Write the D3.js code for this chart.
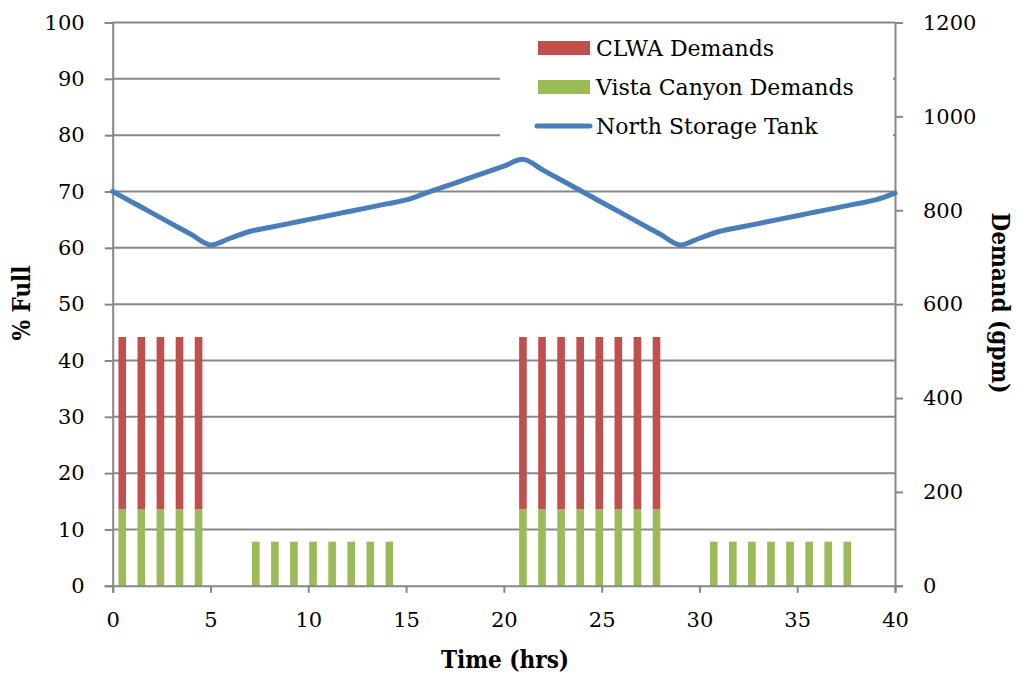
<!DOCTYPE html>
<html>
<head>
<meta charset="utf-8">
<script src="https://cdn.jsdelivr.net/npm/d3@7"></script>
<style>
  html, body { margin: 0; padding: 0; background: #fff; }
  svg { display: block; }
  .tick-label { font-family: "DejaVu Serif", serif; font-size: 21px; fill: #000; }
  .axis-title { font-family: "DejaVu Serif", serif; font-stretch: condensed; font-size: 24px; font-weight: bold; fill: #000; }
  .legend-text { font-family: "DejaVu Serif", serif; font-size: 22px; fill: #000; }
</style>
</head>
<body>
<script>
// Hour index of each demand bar (one category per hour)
const hours = [0,1,2,3,4,5,6,7,8,9,10,11,12,13,14,15,16,17,18,19,20,
               21,22,23,24,25,26,27,28,29,30,31,32,33,34,35,36,37,38,39,40];

// Vista Canyon demand (gpm)
const vistaDemand = [163,163,163,163,163, 0,0, 94,94,94,94,94,94,94,94, 0,0,0,0,0,0,
                     163,163,163,163,163,163,163,163, 0,0, 94,94,94,94,94,94,94,94, 0,0];

// CLWA demand (gpm), stacked above Vista Canyon
const clwaDemand = [367,367,367,367,367, 0,0, 0,0,0,0,0,0,0,0, 0,0,0,0,0,0,
                    367,367,367,367,367,367,367,367, 0,0, 0,0,0,0,0,0,0,0, 0,0];

// North Storage Tank level (% full) at each hour
const tankLevel = [70.0,68.1,66.2,64.3,62.4,60.5,61.7,62.9,63.6,64.3,65.0,65.7,66.4,67.1,67.8,
                   68.5,69.7,70.9,72.1,73.3,74.5,75.7,73.8,71.9,70.0,68.1,66.2,64.3,62.4,60.5,
                   61.7,62.9,63.6,64.3,65.0,65.7,66.4,67.1,67.8,68.5,69.7];

const xTicks = [0,5,10,15,20,25,30,35,40];
const leftTicks = [0,10,20,30,40,50,60,70,80,90,100];
const rightTicks = [0,200,400,600,800,1000,1200];

const seriesNames = ["CLWA Demands", "Vista Canyon Demands", "North Storage Tank"];
const colors = { clwa: "#C0504D", vista: "#9BBB59", tank: "#4A7EBB" };

const W = 1017, H = 675;
const plot = { left: 112.7, right: 895, top: 22.5, bottom: 585.8 };

const svg = d3.select("body").append("svg").attr("width", W).attr("height", H);

const x = d3.scaleLinear().domain([0, 40]).range([plot.left, plot.right]);
const xBand = d3.scaleBand().domain(hours).range([plot.left, plot.right])
  .paddingInner(0.6).paddingOuter(0.3);
const yLeft = d3.scaleLinear().domain([0, 100]).range([plot.bottom, plot.top]);
const yRight = d3.scaleLinear().domain([0, 1200]).range([plot.bottom, plot.top]);

const gridColor = "#878787";

// Horizontal gridlines
svg.append("g").selectAll("line").data(leftTicks.filter(d => d > 0)).join("line")
  .attr("x1", plot.left).attr("x2", plot.right)
  .attr("y1", d => yLeft(d)).attr("y2", d => yLeft(d))
  .attr("stroke", gridColor).attr("stroke-width", 2);

// Stacked demand bars
const stackData = hours.map((h, i) => ({ hour: h, vista: vistaDemand[i], clwa: clwaDemand[i] }));
const stacked = d3.stack().keys(["vista", "clwa"])(stackData);
svg.append("g").selectAll("g").data(stacked).join("g")
  .attr("fill", s => colors[s.key])
  .selectAll("rect").data(s => s.filter(d => d[1] - d[0] > 0)).join("rect")
  .attr("x", d => xBand(d.data.hour))
  .attr("width", xBand.bandwidth())
  .attr("y", d => yRight(d[1]))
  .attr("height", d => yRight(d[0]) - yRight(d[1]));

// Axes
const axisStyle = g => {
  g.attr("font-family", null).attr("font-size", null);
  g.select(".domain").attr("stroke", gridColor).attr("stroke-width", 2);
  g.selectAll(".tick line").attr("stroke", gridColor).attr("stroke-width", 2);
  g.selectAll(".tick text").attr("class", "tick-label").attr("fill", "#000");
};

svg.append("g").attr("transform", `translate(0,${plot.bottom})`)
  .call(d3.axisBottom(x).tickValues(xTicks).tickFormat(d3.format("d"))
    .tickSizeOuter(0).tickSize(7).tickPadding(19))
  .call(axisStyle);

svg.append("g").attr("transform", `translate(${plot.left},0)`)
  .call(d3.axisLeft(yLeft).tickValues(leftTicks).tickFormat(d3.format("d"))
    .tickSizeOuter(0).tickSize(8).tickPadding(20))
  .call(axisStyle);

svg.append("g").attr("transform", `translate(${plot.right},0)`)
  .call(d3.axisRight(yRight).tickValues(rightTicks).tickFormat(d3.format("d"))
    .tickSizeOuter(0).tickSize(8).tickPadding(20))
  .call(axisStyle);

// Tank level line
const line = d3.line()
  .x((d, i) => x(hours[i]))
  .y(d => yLeft(d))
  .curve(d3.curveCatmullRom.alpha(0.5));
svg.append("path").datum(tankLevel)
  .attr("d", line)
  .attr("fill", "none")
  .attr("stroke", colors.tank)
  .attr("stroke-width", 5)
  .attr("stroke-linejoin", "round")
  .attr("stroke-linecap", "round");

// Axis titles
svg.append("text").attr("class", "axis-title")
  .attr("text-anchor", "middle")
  .attr("x", 505).attr("y", 668)
  .text("Time (hrs)");

svg.append("text").attr("class", "axis-title")
  .attr("text-anchor", "middle")
  .attr("transform", "translate(30,303) rotate(-90)")
  .text("% Full");

svg.append("text").attr("class", "axis-title")
  .attr("text-anchor", "middle")
  .attr("transform", "translate(992,303) rotate(90)")
  .text("Demand (gpm)");

// Legend
const legend = svg.append("g");
legend.append("rect")
  .attr("x", 500).attr("y", 27).attr("width", 393).attr("height", 116)
  .attr("fill", "#fff");
const rowY = [48, 87, 126];
legend.append("rect").attr("x", 538).attr("y", rowY[0] - 7).attr("width", 52).attr("height", 14).attr("fill", colors.clwa);
legend.append("rect").attr("x", 538).attr("y", rowY[1] - 7).attr("width", 52).attr("height", 14).attr("fill", colors.vista);
legend.append("line").attr("x1", 537).attr("x2", 590).attr("y1", rowY[2]).attr("y2", rowY[2])
  .attr("stroke", colors.tank).attr("stroke-width", 5).attr("stroke-linecap", "round");
legend.selectAll("text.legend-text").data(seriesNames).join("text")
  .attr("class", "legend-text")
  .attr("x", 596).attr("y", (d, i) => rowY[i])
  .attr("dy", "0.35em")
  .text(d => d);
</script>
</body>
</html>
